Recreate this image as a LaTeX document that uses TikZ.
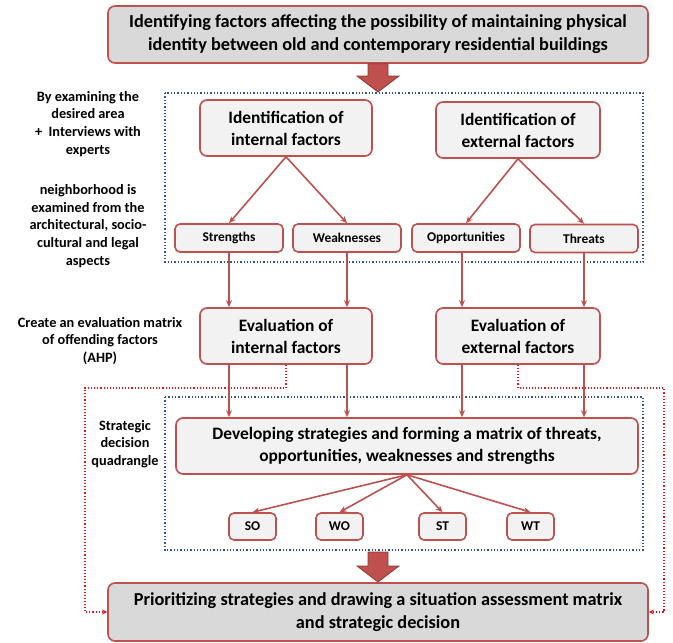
\documentclass[tikz,border=0pt]{standalone}
\usepackage{fontspec}
\setmainfont{Carlito}
\usetikzlibrary{arrows.meta}
\definecolor{rb}{HTML}{C0504D}
\definecolor{rbd}{HTML}{8C3836}
\definecolor{lg}{HTML}{F2F2F2}
\definecolor{dg}{HTML}{D9D9D9}
\definecolor{bl}{HTML}{2F5597}
\definecolor{rd}{HTML}{E8141B}
\tikzset{
  box/.style={draw=rb, line width=1.6pt, rounded corners=7pt, fill=lg, align=center, inner sep=0pt, font=\bfseries},
  bigbox/.style={box, fill=dg, font=\bfseries\fontsize{18.3}{23}\selectfont},
  midbox/.style={box, font=\bfseries\fontsize{17.4}{22}\selectfont, minimum height=56pt},
  smallbox/.style={box, font=\bfseries\fontsize{13.4}{15}\selectfont, minimum height=28pt, rounded corners=5pt},
  conn/.style={draw=rb, line width=1.6pt, -{Stealth[length=7pt,width=6pt]}},
  bluedot/.style={draw=bl, line width=1.3pt, dotted},
  reddot/.style={draw=rd, line width=1.1pt, dotted, -{Stealth[length=5pt,width=5pt]}},
  note/.style={align=center, font=\bfseries\fontsize{14.3}{17.8}\selectfont},
  fatarrow/.style={fill=rb, draw=rbd, line width=0.8pt}
}
\begin{document}
\begin{tikzpicture}[x=1pt,y=-1pt]
\useasboundingbox (0,0) rectangle (673,643);
% frames
\draw[bluedot] (165,93) rectangle (643,262);
\draw[bluedot] (165,397) rectangle (643,550);
% nodes
\node[bigbox, minimum width=540pt, minimum height=57pt] (top) at (378,34.5)
  {Identifying factors affecting the possibility of maintaining physical\\identity between old and contemporary residential buildings};
\node[midbox, minimum width=172pt] (int) at (286,128) {Identification of\\internal factors};
\node[midbox, minimum width=164pt] (ext) at (518,130) {Identification of\\external factors};
\node[smallbox, minimum width=108pt] (str) at (229,238) {Strengths};
\node[smallbox, minimum width=108pt] (weak) at (347,238) {Weaknesses};
\node[smallbox, minimum width=108pt] (opp) at (466,238) {Opportunities};
\node[smallbox, minimum width=108pt] (thr) at (584,238.5) {Threats};
\node[midbox, minimum width=172pt] (evi) at (286,336) {Evaluation of\\internal factors};
\node[midbox, minimum width=164pt] (eve) at (518,336) {Evaluation of\\external factors};
\node[midbox, minimum width=462pt] (dev) at (407,446) {Developing strategies and forming a matrix of threats,\\opportunities, weaknesses and strengths};
\node[smallbox, minimum width=47pt, minimum height=27pt] (so) at (252.5,526.5) {SO};
\node[smallbox, minimum width=47pt, minimum height=27pt] (wo) at (339.5,526.5) {WO};
\node[smallbox, minimum width=47pt, minimum height=27pt] (st) at (442.5,526.5) {ST};
\node[smallbox, minimum width=47pt, minimum height=27pt] (wt) at (530.5,526.5) {WT};
\node[bigbox, minimum width=540pt, minimum height=58pt] (bot) at (378,612)
  {Prioritizing strategies and drawing a situation assessment matrix\\and strategic decision};
% notes
\node[note] (n1) at (88,124) {By examining the\\desired area\\+\ \ Interviews with\\experts};
\node[note] (n2) at (88,226) {neighborhood is\\examined from the\\architectural, socio-\\cultural and legal\\aspects};
\node[note] (n3) at (100,341) {Create an evaluation matrix\\of offending factors\\(AHP)};
\node[note] (n4) at (125,444) {Strategic\\decision\\quadrangle};
% big arrows
\draw[fatarrow] (top.south -| 368,0) -- (368,76) -- (357,76) -- (378,92) -- (399,76) -- (388,76) -- (top.south -| 388,0) -- cycle;
\draw[fatarrow] (368,552) -- (368,566) -- (357,566) -- (378,582) -- (399,566) -- (388,566) -- (388,552) -- cycle;
% tree connectors
\draw[conn] (int.south) -- (str.north);
\draw[conn] (int.south) -- (weak.north);
\draw[conn] (ext.south) -- (opp.north);
\draw[conn] (ext.south) -- (thr.north);
% verticals
\draw[conn] (str.south) -- (str.south |- evi.north);
\draw[conn] (weak.south) -- (weak.south |- evi.north);
\draw[conn] (opp.south -| 462,0) -- (eve.north -| 462,0);
\draw[conn] (thr.south) -- (thr.south |- eve.north);
\draw[conn] (evi.south -| str.south) -- (dev.north -| str.south);
\draw[conn] (evi.south -| weak.south) -- (dev.north -| weak.south);
\draw[conn] (eve.south -| 462,0) -- (dev.north -| 462,0);
\draw[conn] (eve.south -| thr.south) -- (dev.north -| thr.south);
% strategies
\draw[conn] (dev.south) -- (so.north);
\draw[conn] (dev.south) -- (wo.north);
\draw[conn] (dev.south) -- (st.north);
\draw[conn] (dev.south) -- (wt.north);
% red dotted feedback
\draw[reddot] (evi.south) |- (85,388) |- (bot.west);
\draw[reddot] (eve.south) |- (664,388) |- (bot.east);
\end{tikzpicture}
\end{document}
